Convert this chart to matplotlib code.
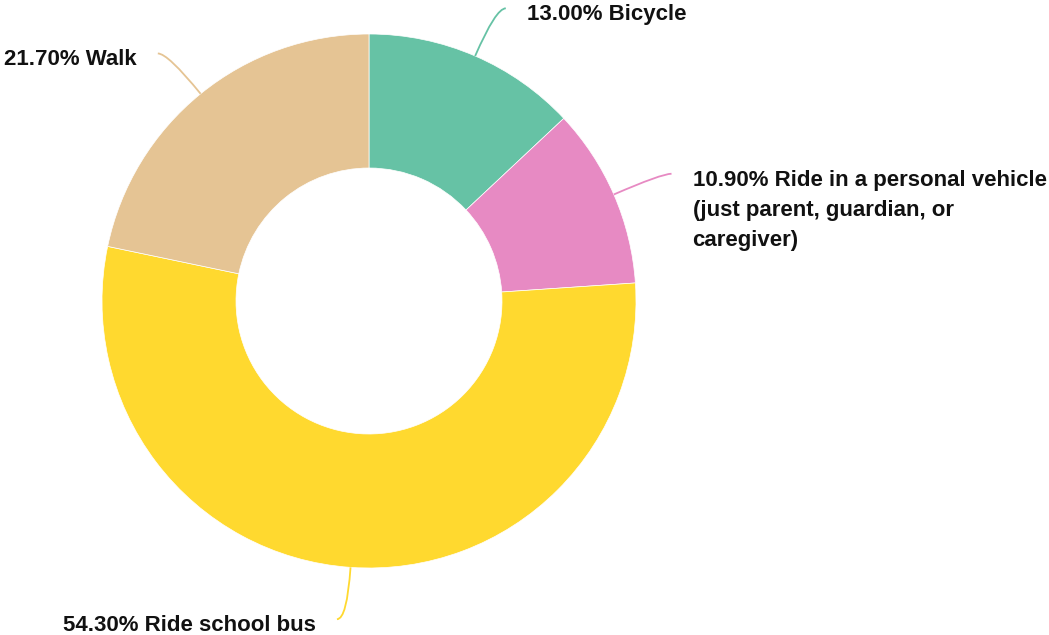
import numpy as np
import matplotlib
matplotlib.use("Agg")
import matplotlib.pyplot as plt
from matplotlib.path import Path
from matplotlib.patches import PathPatch

# ── data ─────────────────────────────────────────────────────────
labels = [
    "Bicycle",
    "Ride in a personal vehicle\n(just parent, guardian, or\ncaregiver)",
    "Ride school bus",
    "Walk",
]
shares = [13.0, 10.9, 54.3, 21.7]
colors = ["#66c2a5", "#e78ac3", "#ffd92f", "#e5c494"]

W, H = 1049, 635
CX, CY = 369, H - 301
R_OUT, RING = 267, 134

plt.rcParams.update({"font.family": ["Liberation Sans", "DejaVu Sans"]})

fig = plt.figure(figsize=(W / 100, H / 100), dpi=100)
ax = fig.add_axes([0, 0, 1, 1])

wedges, _ = ax.pie(
    shares, colors=colors, radius=R_OUT, center=(CX, CY),
    startangle=90, counterclock=False,
    wedgeprops=dict(width=RING, edgecolor="white", linewidth=0.5),
)

# leader lines: radial stub that bends into a short horizontal tail
for w, lab, val, col in zip(wedges, labels, shares, colors):
    ang = np.deg2rad((w.theta1 + w.theta2) / 2)
    dx, dy = np.cos(ang), np.sin(ang)
    p0 = (CX + R_OUT * dx, CY + R_OUT * dy)
    p1 = (CX + (R_OUT + 52) * dx, CY + (R_OUT + 52) * dy)
    side = 1 if dx >= 0 else -1
    p2 = (p1[0] + 10 * side, p1[1])
    path = Path([p0, p1, p2], [Path.MOVETO, Path.CURVE3, Path.CURVE3])
    ax.add_patch(PathPatch(path, fc="none", ec=col, lw=1.3))
    ax.text(p2[0] + 21 * side, p2[1] + 4, f"{val:.2f}% {lab}",
            ha="left" if side > 0 else "right", va="top",
            fontsize=16, fontweight="bold", color="#111111",
            linespacing=1.58)

ax.set_xlim(0, W)
ax.set_ylim(0, H)
ax.set_aspect("equal")
ax.axis("off")

fig.savefig("out.png", dpi=100, facecolor="white")
